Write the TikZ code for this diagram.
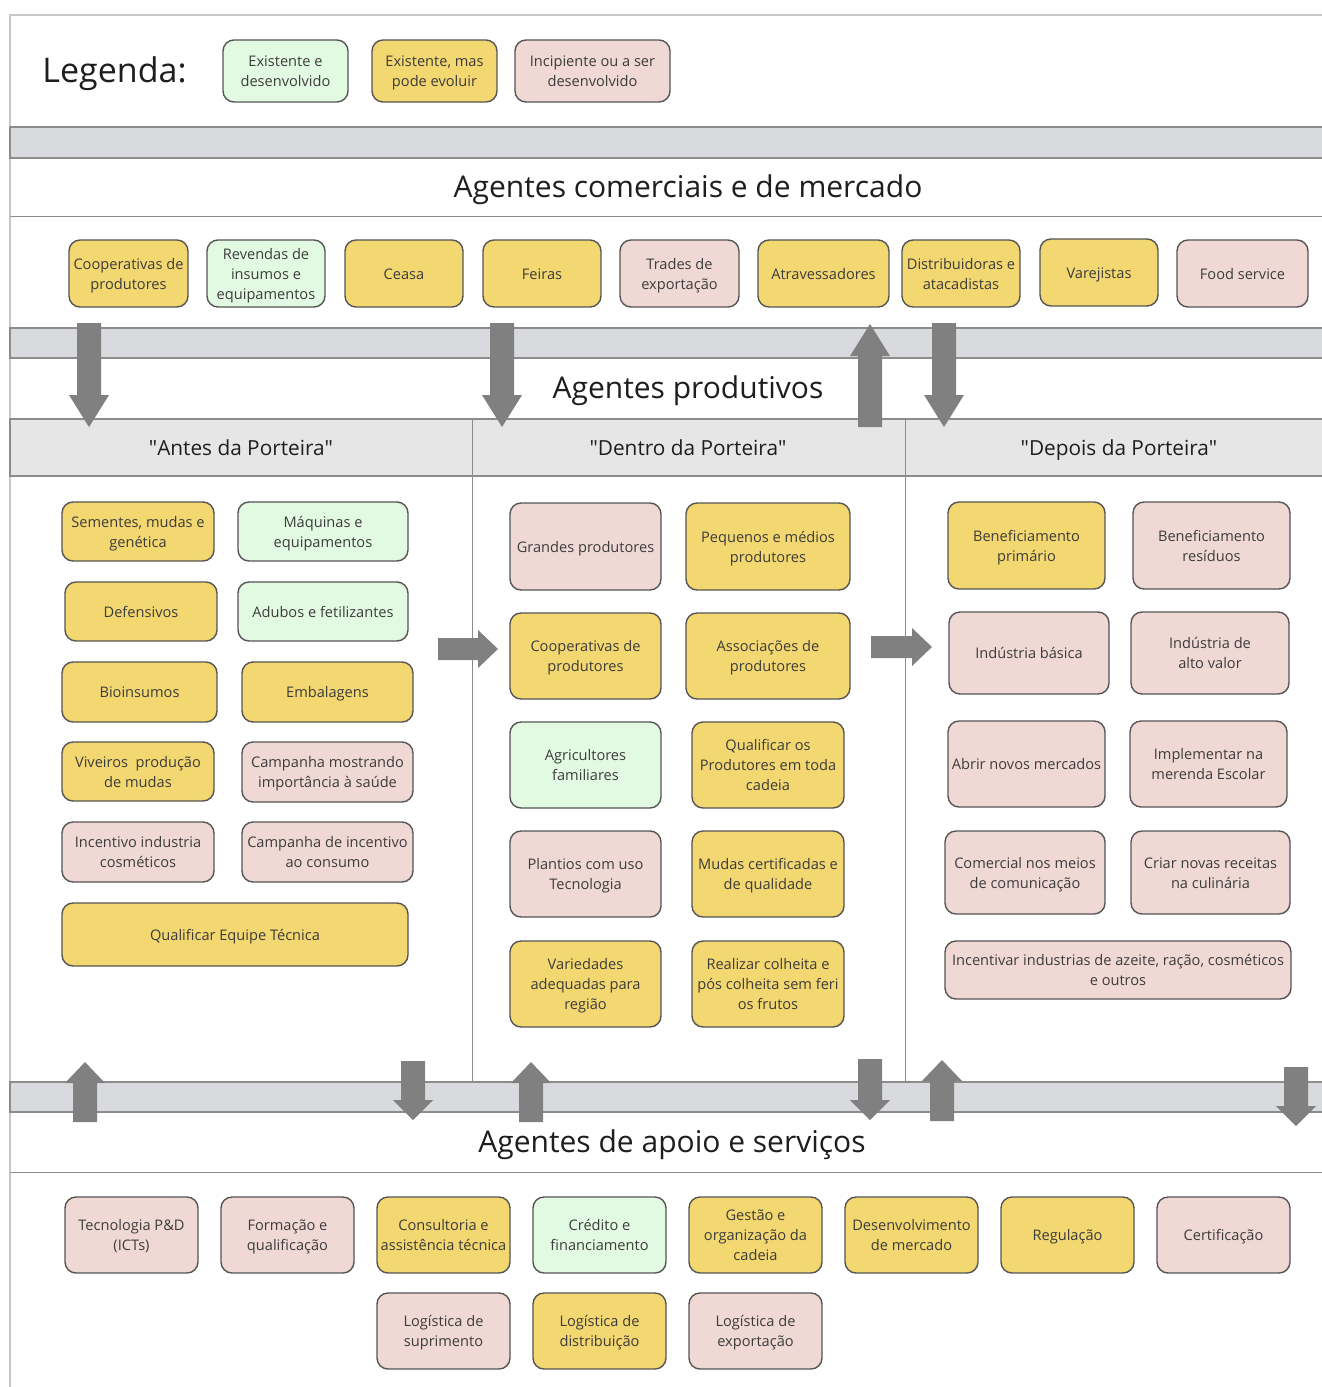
\documentclass[tikz,border=0pt]{standalone}
\usepackage{fontspec}
\setmainfont{Open Sans}
\usetikzlibrary{positioning}

\definecolor{yfill}{RGB}{243,215,112}
\definecolor{pfill}{RGB}{240,217,213}
\definecolor{gfill}{RGB}{227,250,226}
\definecolor{edgegray}{RGB}{85,85,85}
\definecolor{txtgray}{RGB}{60,60,60}
\definecolor{titlegray}{RGB}{30,30,30}
\definecolor{bandfill}{RGB}{216,218,222}
\definecolor{bandline}{RGB}{140,140,140}
\definecolor{headfill}{RGB}{230,230,230}
\definecolor{framegray}{RGB}{200,200,200}
\definecolor{arrowgray}{RGB}{128,128,128}

% struts fixing the height of the first line and the depth of the last line
\newcommand{\topS}{\rule{0pt}{15.5pt}}
\newcommand{\botS}{\rule[-4.5pt]{0pt}{0pt}}
% straight double quote glyph (no text mapping)
\newcommand{\dq}{\XeTeXglyph\XeTeXcharglyph"22\relax}

% block arrows: x, start, tip, head length
\newcommand{\blockdown}[4]{\fill[arrowgray] (#1-12,#2) -- (#1+12,#2) -- (#1+12,#3-#4) -- (#1+20,#3-#4) -- (#1,#3) -- (#1-20,#3-#4) -- (#1-12,#3-#4) -- cycle;}
\newcommand{\blockup}[4]{\fill[arrowgray] (#1-12,#2) -- (#1+12,#2) -- (#1+12,#3+#4) -- (#1+20,#3+#4) -- (#1,#3) -- (#1-20,#3+#4) -- (#1-12,#3+#4) -- cycle;}
% y, start, tip
\newcommand{\blockright}[3]{\fill[arrowgray] (#2,#1-11) -- (#3-20,#1-11) -- (#3-20,#1-19) -- (#3,#1) -- (#3-20,#1+19) -- (#3-20,#1+11) -- (#2,#1+11) -- cycle;}

\tikzset{
  box/.style={draw=edgegray, line width=1.4pt, rounded corners=11pt, align=center,
    text=txtgray, inner sep=0pt, font=\fontsize{14.6}{20}\selectfont},
  ybox/.style={box, fill=yfill},
  pbox/.style={box, fill=pfill},
  gbox/.style={box, fill=gfill},
  sz/.style 2 args={minimum width=#1, minimum height=#2},
  title/.style={text=titlegray, font=\fontsize{30}{36}\selectfont, inner sep=0pt},
  colhead/.style={text=titlegray, font=\fontsize{20.8}{26}\selectfont, inner sep=0pt, anchor=base},
  band/.style={fill=bandfill, draw=bandline, line width=1.2pt},
  rule/.style={draw=bandline, line width=1pt},
}

\begin{document}
\begin{tikzpicture}[x=1pt,y=-1pt]
\useasboundingbox (0,0) rectangle (1322,1387);
\fill[white] (0,0) rectangle (1322,1387);

% outer frame
\draw[framegray, line width=1.5pt] (10,1387) -- (10,15) -- (1322,15);

% horizontal bands and rules
\path[band] (10,127) rectangle (1330,158);
\draw[rule] (10,216) -- (1322,216);
\path[band] (10,328) rectangle (1330,358);
\path[fill=headfill, draw=bandline, line width=1.2pt] (10,419) rectangle (1330,476);
\draw[rule] (472,419) -- (472,1082);
\draw[rule] (905,419) -- (905,1082);
\path[band] (10,1082) rectangle (1330,1112);
\draw[rule] (10,1172) -- (1322,1172);

% legend
\node[text=titlegray, font=\fontsize{34}{40}\selectfont, inner sep=0pt] (leg) at (114.5,74) {Legenda:};
\node[gbox, sz={125}{62}] (lg1) at (285.5,71) {\topS Existente e\\desenvolvido\botS};
\node[ybox, sz={125}{62}] (lg2) at (434.5,71) {\topS Existente, mas\\pode evoluir\botS};
\node[pbox, sz={155}{62}] (lg3) at (592.5,71) {\topS Incipiente ou a ser\\desenvolvido\botS};

% section titles
\node[title] (tcom) at (688,190) {Agentes comerciais e de mercado};
\node[title] (tprod) at (688,391) {Agentes produtivos};
\node[title] (tapoio) at (672,1145) {Agentes de apoio e serviços};
\node[colhead] (hantes) at (241,455) {\dq Antes da Porteira\dq};
\node[colhead] (hdentro) at (688,455) {\dq Dentro da Porteira\dq};
\node[colhead] (hdepois) at (1119,455) {\dq Depois da Porteira\dq};

% commercial and market agents
\node[ybox, sz={119}{67}] (c1) at (128.5,273.5) {\topS Cooperativas de\\produtores\botS};
\node[gbox, sz={118}{67}] (c2) at (266,273.5) {\topS Revendas de\\insumos e\\equipamentos\botS};
\node[ybox, sz={118}{67}] (c3) at (404,273.5) {\topS Ceasa\botS};
\node[ybox, sz={118}{67}] (c4) at (542,273.5) {\topS Feiras\botS};
\node[pbox, sz={119}{67}] (c5) at (679.5,273.5) {\topS Trades de\\exportação\botS};
\node[ybox, sz={131}{67}] (c6) at (823.5,273.5) {\topS Atravessadores\botS};
\node[ybox, sz={118}{67}] (c7) at (961,273.5) {\topS Distribuidoras e\\atacadistas\botS};
\node[ybox, sz={118}{67}] (c8) at (1099,272.5) {\topS Varejistas\botS};
\node[pbox, sz={131}{67}] (c9) at (1242.5,273.5) {\topS Food service\botS};

% before the gate
\node[ybox, sz={152}{59}] (a1) at (138,531.5) {\topS Sementes, mudas e\\genética\botS};
\node[gbox, sz={170}{59}] (a2) at (323,531.5) {\topS Máquinas e\\equipamentos\botS};
\node[ybox, sz={152}{59}] (a3) at (141,611.5) {\topS Defensivos\botS};
\node[gbox, sz={170}{59}] (a4) at (323,611.5) {\topS Adubos e fetilizantes\botS};
\node[ybox, sz={155}{60}] (a5) at (139.5,692) {\topS Bioinsumos\botS};
\node[ybox, sz={171}{60}] (a6) at (327.5,692) {\topS Embalagens\botS};
\node[ybox, sz={152}{59}] (a7) at (138,771.5) {\topS Viveiros~ produção\\de mudas\botS};
\node[pbox, sz={171}{60}] (a8) at (327.5,772) {\topS Campanha mostrando\\importância à saúde\botS};
\node[pbox, sz={152}{60}] (a9) at (138,852) {\topS Incentivo industria\\cosméticos\botS};
\node[pbox, sz={171}{60}] (a10) at (327.5,852) {\topS Campanha de incentivo\\ao consumo\botS};
\node[ybox, sz={346}{63}] (a11) at (235,934.5) {\topS Qualificar Equipe Técnica\botS};

% inside the gate
\node[pbox, sz={151}{87}] (d1) at (585.5,546.5) {\topS Grandes produtores\botS};
\node[ybox, sz={164}{87}] (d2) at (768,546.5) {\topS Pequenos e médios\\produtores\botS};
\node[ybox, sz={151}{86}] (d3) at (585.5,656) {\topS Cooperativas de\\produtores\botS};
\node[ybox, sz={164}{86}] (d4) at (768,656) {\topS Associações de\\produtores\botS};
\node[gbox, sz={151}{86}] (d5) at (585.5,765) {\topS Agricultores\\familiares\botS};
\node[ybox, sz={152}{86}] (d6) at (768,765) {\topS Qualificar os\\Produtores em toda\\cadeia\botS};
\node[pbox, sz={151}{86}] (d7) at (585.5,874) {\topS Plantios com uso\\Tecnologia\botS};
\node[ybox, sz={152}{86}] (d8) at (768,874) {\topS Mudas certificadas e\\de qualidade\botS};
\node[ybox, sz={151}{86}] (d9) at (585.5,984) {\topS Variedades\\adequadas para\\região\botS};
\node[ybox, sz={152}{86}] (d10) at (768,984) {\topS Realizar colheita e\\pós colheita sem feri\\os frutos\botS};

% after the gate
\node[ybox, sz={157}{87}] (p1) at (1026.5,545.5) {\topS Beneficiamento\\primário\botS};
\node[pbox, sz={157}{87}] (p2) at (1211.5,545.5) {\topS Beneficiamento\\resíduos\botS};
\node[pbox, sz={160}{82}] (p3) at (1029,653) {\topS Indústria básica\botS};
\node[pbox, sz={158}{82}] (p4) at (1210,653) {\topS Indústria de\\alto valor\botS};
\node[pbox, sz={157}{86}] (p5) at (1026.5,764) {\topS Abrir novos mercados\botS};
\node[pbox, sz={157}{86}] (p6) at (1208.5,764) {\topS Implementar na\\merenda Escolar\botS};
\node[pbox, sz={160}{83}] (p7) at (1025,872.5) {\topS Comercial nos meios\\de comunicação\botS};
\node[pbox, sz={159}{83}] (p8) at (1210.5,872.5) {\topS Criar novas receitas\\na culinária\botS};
\node[pbox, sz={346}{58}] (p9) at (1118,970) {\topS Incentivar industrias de azeite, ração, cosméticos\\e outros\botS};

% support and service agents
\node[pbox, sz={133}{76}] (s1) at (131.5,1235) {\topS Tecnologia P\&D\\(ICTs)\botS};
\node[pbox, sz={133}{76}] (s2) at (287.5,1235) {\topS Formação e\\qualificação\botS};
\node[ybox, sz={133}{76}] (s3) at (443.5,1235) {\topS Consultoria e\\assistência técnica\botS};
\node[gbox, sz={133}{76}] (s4) at (599.5,1235) {\topS Crédito e\\financiamento\botS};
\node[ybox, sz={133}{76}] (s5) at (755.5,1235) {\topS Gestão e\\organização da\\cadeia\botS};
\node[ybox, sz={133}{76}] (s6) at (911.5,1235) {\topS Desenvolvimento\\de mercado\botS};
\node[ybox, sz={133}{76}] (s7) at (1067.5,1235) {\topS Regulação\botS};
\node[pbox, sz={133}{76}] (s8) at (1223.5,1235) {\topS Certificação\botS};
\node[pbox, sz={133}{76}] (l1) at (443.5,1331) {\topS Logística de\\suprimento\botS};
\node[ybox, sz={133}{76}] (l2) at (599.5,1331) {\topS Logística de\\distribuição\botS};
\node[pbox, sz={133}{76}] (l3) at (755.5,1331) {\topS Logística de\\exportação\botS};

% flow arrows between the layers
\blockdown{89}{323}{427}{32}
\blockdown{502}{323}{427}{32}
\blockup{870}{427}{324}{32}
\blockdown{944}{323}{427}{32}
\blockright{649}{438}{498}
\blockright{647}{871}{932}
\blockup{85}{1122}{1062}{21}
\blockdown{413}{1061}{1120}{20}
\blockup{531}{1122}{1062}{21}
\blockdown{870}{1059}{1120}{20}
\blockup{942}{1121}{1060}{21}
\blockdown{1296}{1067}{1126}{20}
\end{tikzpicture}
\end{document}
